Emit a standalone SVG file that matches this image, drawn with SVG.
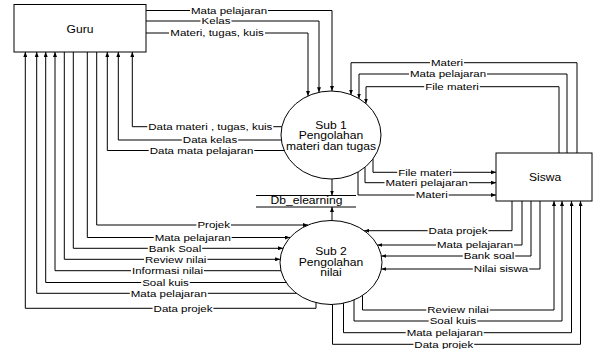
<svg xmlns="http://www.w3.org/2000/svg" width="594" height="349" viewBox="0 0 594 349">
  <style>
    .box { fill: #fff; stroke: #000; stroke-width: 1; }
    .flow { fill: none; stroke: #000; stroke-width: 1; }
    .arrow { marker-end: url(#head); }
    .name { font-family: "Liberation Sans", Arial, sans-serif; font-size: 11px; fill: #000; text-anchor: middle; }
    .lbl { font-family: "Liberation Sans", Arial, sans-serif; font-size: 9px; fill: #000; text-anchor: middle; }
  </style>
  <defs>
    <marker id="head" viewBox="0 0 10 8" markerUnits="userSpaceOnUse" markerWidth="5" markerHeight="4" refX="10" refY="4" orient="auto">
      <path d="M0,0 L10,4 L0,8 Z" fill="#000"/>
    </marker>
  </defs>
  <rect width="594" height="349" fill="#fff"/>

  <!-- external entities and processes -->
  <g id="guru">
    <rect class="box" x="14" y="4.5" width="132" height="47.5"/>
    <text class="name" style="font-size:11.5px" transform="translate(80,33) scale(1.05,1)">Guru</text>
  </g>
  <g id="siswa">
    <rect class="box" x="496" y="153" width="96" height="48"/>
    <text class="name" style="font-size:11.5px" transform="translate(545,180.5) scale(1.05,1)">Siswa</text>
  </g>
  <g id="sub1">
    <ellipse class="box" cx="331" cy="135" rx="50" ry="44"/>
    <text class="name" transform="translate(331,129) scale(1.1,1)">Sub 1</text>
    <text class="name" transform="translate(331,139.3) scale(1.1,1)">Pengolahan</text>
    <text class="name" transform="translate(331,149.6) scale(1.1,1)">materi dan tugas</text>
  </g>
  <g id="sub2">
    <ellipse class="box" cx="331" cy="262.5" rx="51" ry="42"/>
    <text class="name" transform="translate(331,254.5) scale(1.1,1)">Sub 2</text>
    <text class="name" transform="translate(331,265.5) scale(1.1,1)">Pengolahan</text>
    <text class="name" transform="translate(331,276.3) scale(1.1,1)">nilai</text>
  </g>
  <g id="db-elearning">
    <line class="flow" x1="256" y1="195.5" x2="356" y2="195.5"/>
    <line class="flow" x1="256" y1="207" x2="356" y2="207"/>
    <text class="name" transform="translate(306.5,204.2) scale(1.1,1)">Db_elearning</text>
  </g>

  <!-- data flows -->
  <g id="connectors">
    <!-- Guru to Sub 1 -->
    <g>
      <path class="flow arrow" d="M146,10.5 H190 M268,10.5 H332 V91"/>
      <text class="lbl" transform="translate(229,13.8) scale(1.28,1)">Mata pelajaran</text>
    </g>
    <g>
      <path class="flow arrow" d="M146,21 H200.5 M231.5,21 H319 V92.3"/>
      <text class="lbl" transform="translate(216,24.3) scale(1.28,1)">Kelas</text>
    </g>
    <g>
      <path class="flow arrow" d="M146,33 H169 M265,33 H308 V95.9"/>
      <text class="lbl" transform="translate(217,36.3) scale(1.28,1)">Materi, tugas, kuis</text>
    </g>

    <!-- Sub 1 to Guru -->
    <g>
      <path class="flow arrow" d="M281.9,126.7 H273.3 M147.3,126.7 H132.3 V52"/>
      <text class="lbl" transform="translate(210.3,130) scale(1.28,1)">Data materi , tugas, kuis</text>
    </g>
    <g>
      <path class="flow arrow" d="M281.3,140 H238.2 M181.8,140 H118.3 V52"/>
      <text class="lbl" transform="translate(210,143.3) scale(1.28,1)">Data kelas</text>
    </g>
    <g>
      <path class="flow arrow" d="M284.2,150.5 H254.3 M148.7,150.5 H107.3 V52"/>
      <text class="lbl" transform="translate(201.5,153.8) scale(1.28,1)">Data mata pelajaran</text>
    </g>

    <!-- Siswa to Sub 1 -->
    <g>
      <path class="flow arrow" d="M577,153 V62.7 H464 M430,62.7 H351 V94.7"/>
      <text class="lbl" transform="translate(447,66) scale(1.28,1)">Materi</text>
    </g>
    <g>
      <path class="flow arrow" d="M567,153 V74 H487 M409,74 H359 V98.5"/>
      <text class="lbl" transform="translate(448,77.3) scale(1.28,1)">Mata pelajaran</text>
    </g>
    <g>
      <path class="flow arrow" d="M559,153 V86.7 H479.8 M424.2,86.7 H366 V103.6"/>
      <text class="lbl" transform="translate(452,90) scale(1.28,1)">File materi</text>
    </g>

    <!-- Sub 1 to Siswa -->
    <g>
      <path class="flow arrow" d="M373,158.9 V172.3 H397.2 M452.8,172.3 H496"/>
      <text class="lbl" transform="translate(425,175.6) scale(1.28,1)">File materi</text>
    </g>
    <g>
      <path class="flow arrow" d="M365,167.3 V182.7 H384.5 M468.9,182.7 H496"/>
      <text class="lbl" transform="translate(426.7,186) scale(1.28,1)">Materi pelajaran</text>
    </g>
    <g>
      <path class="flow arrow" d="M358,172 V195 H414.7 M448.7,195 H496"/>
      <text class="lbl" transform="translate(431.7,198.3) scale(1.28,1)">Materi</text>
    </g>

    <!-- processes and data store -->
    <path class="flow arrow" d="M332,179 V195.5"/>
    <path class="flow arrow" d="M332,220.5 V207"/>

    <!-- Guru to Sub 2 -->
    <g>
      <path class="flow arrow" d="M96.7,52 V225 H196.4 M231,225 H308"/>
      <text class="lbl" transform="translate(213.7,228.3) scale(1.28,1)">Projek</text>
    </g>
    <g>
      <path class="flow arrow" d="M87.3,52 V237.5 H153.7 M231.7,237.5 H290"/>
      <text class="lbl" transform="translate(192.7,240.8) scale(1.28,1)">Mata pelajaran</text>
    </g>
    <g>
      <path class="flow arrow" d="M73.3,52 V248.3 H147.8 M202.2,248.3 H283"/>
      <text class="lbl" transform="translate(175,251.6) scale(1.28,1)">Bank Soal</text>
    </g>
    <g>
      <path class="flow arrow" d="M64.3,52 V259.3 H144 M207.4,259.3 H280.1"/>
      <text class="lbl" transform="translate(175.7,262.6) scale(1.28,1)">Review nilai</text>
    </g>

    <!-- Sub 2 to Guru -->
    <g>
      <path class="flow arrow" d="M281,270.7 H204 M131,270.7 H55 V52"/>
      <text class="lbl" transform="translate(167.5,274) scale(1.28,1)">Informasi nilai</text>
    </g>
    <g>
      <path class="flow arrow" d="M286.2,282.5 H189.8 M141.2,282.5 H45.7 V52"/>
      <text class="lbl" transform="translate(165.5,285.8) scale(1.28,1)">Soal kuis</text>
    </g>
    <g>
      <path class="flow arrow" d="M296.3,293.3 H207.8 M129.8,293.3 H36.7 V52"/>
      <text class="lbl" transform="translate(168.8,296.6) scale(1.28,1)">Mata pelajaran</text>
    </g>
    <g>
      <path class="flow arrow" d="M316,302.7 V308.3 H213.4 M152.6,308.3 H25.3 V52"/>
      <text class="lbl" transform="translate(183,311.6) scale(1.28,1)">Data projek</text>
    </g>

    <!-- Siswa to Sub 2 -->
    <g>
      <path class="flow arrow" d="M512,201 V230.7 H488.4 M427.6,230.7 H364.3"/>
      <text class="lbl" transform="translate(458,234) scale(1.28,1)">Data projek</text>
    </g>
    <g>
      <path class="flow arrow" d="M522,201 V245 H514 M436,245 H377.4"/>
      <text class="lbl" transform="translate(475,248.3) scale(1.28,1)">Mata pelajaran</text>
    </g>
    <g>
      <path class="flow arrow" d="M531,201 V256 H515.2 M462.8,256 H381.4"/>
      <text class="lbl" transform="translate(489,259.3) scale(1.28,1)">Bank soal</text>
    </g>
    <g>
      <path class="flow arrow" d="M540,201 V269 H529.2 M472.8,269 H381.4"/>
      <text class="lbl" transform="translate(501,272.3) scale(1.28,1)">Nilai siswa</text>
    </g>

    <!-- Sub 2 to Siswa -->
    <g>
      <path class="flow arrow" d="M362.5,295.5 V310 H426.3 M489.7,310 H554 V201"/>
      <text class="lbl" transform="translate(458,313.3) scale(1.28,1)">Review nilai</text>
    </g>
    <g>
      <path class="flow arrow" d="M354,300 V321 H428.7 M477.3,321 H562 V201"/>
      <text class="lbl" transform="translate(453,324.3) scale(1.28,1)">Soal kuis</text>
    </g>
    <g>
      <path class="flow arrow" d="M343.5,303.2 V332.7 H405.7 M483.7,332.7 H571.5 V201"/>
      <text class="lbl" transform="translate(444.7,336) scale(1.28,1)">Mata pelajaran</text>
    </g>
    <g>
      <path class="flow arrow" d="M332.5,304.5 V344.3 H413.4 M474.2,344.3 H580.5 V201"/>
      <text class="lbl" transform="translate(443.8,347.6) scale(1.28,1)">Data projek</text>
    </g>
  </g>
</svg>
